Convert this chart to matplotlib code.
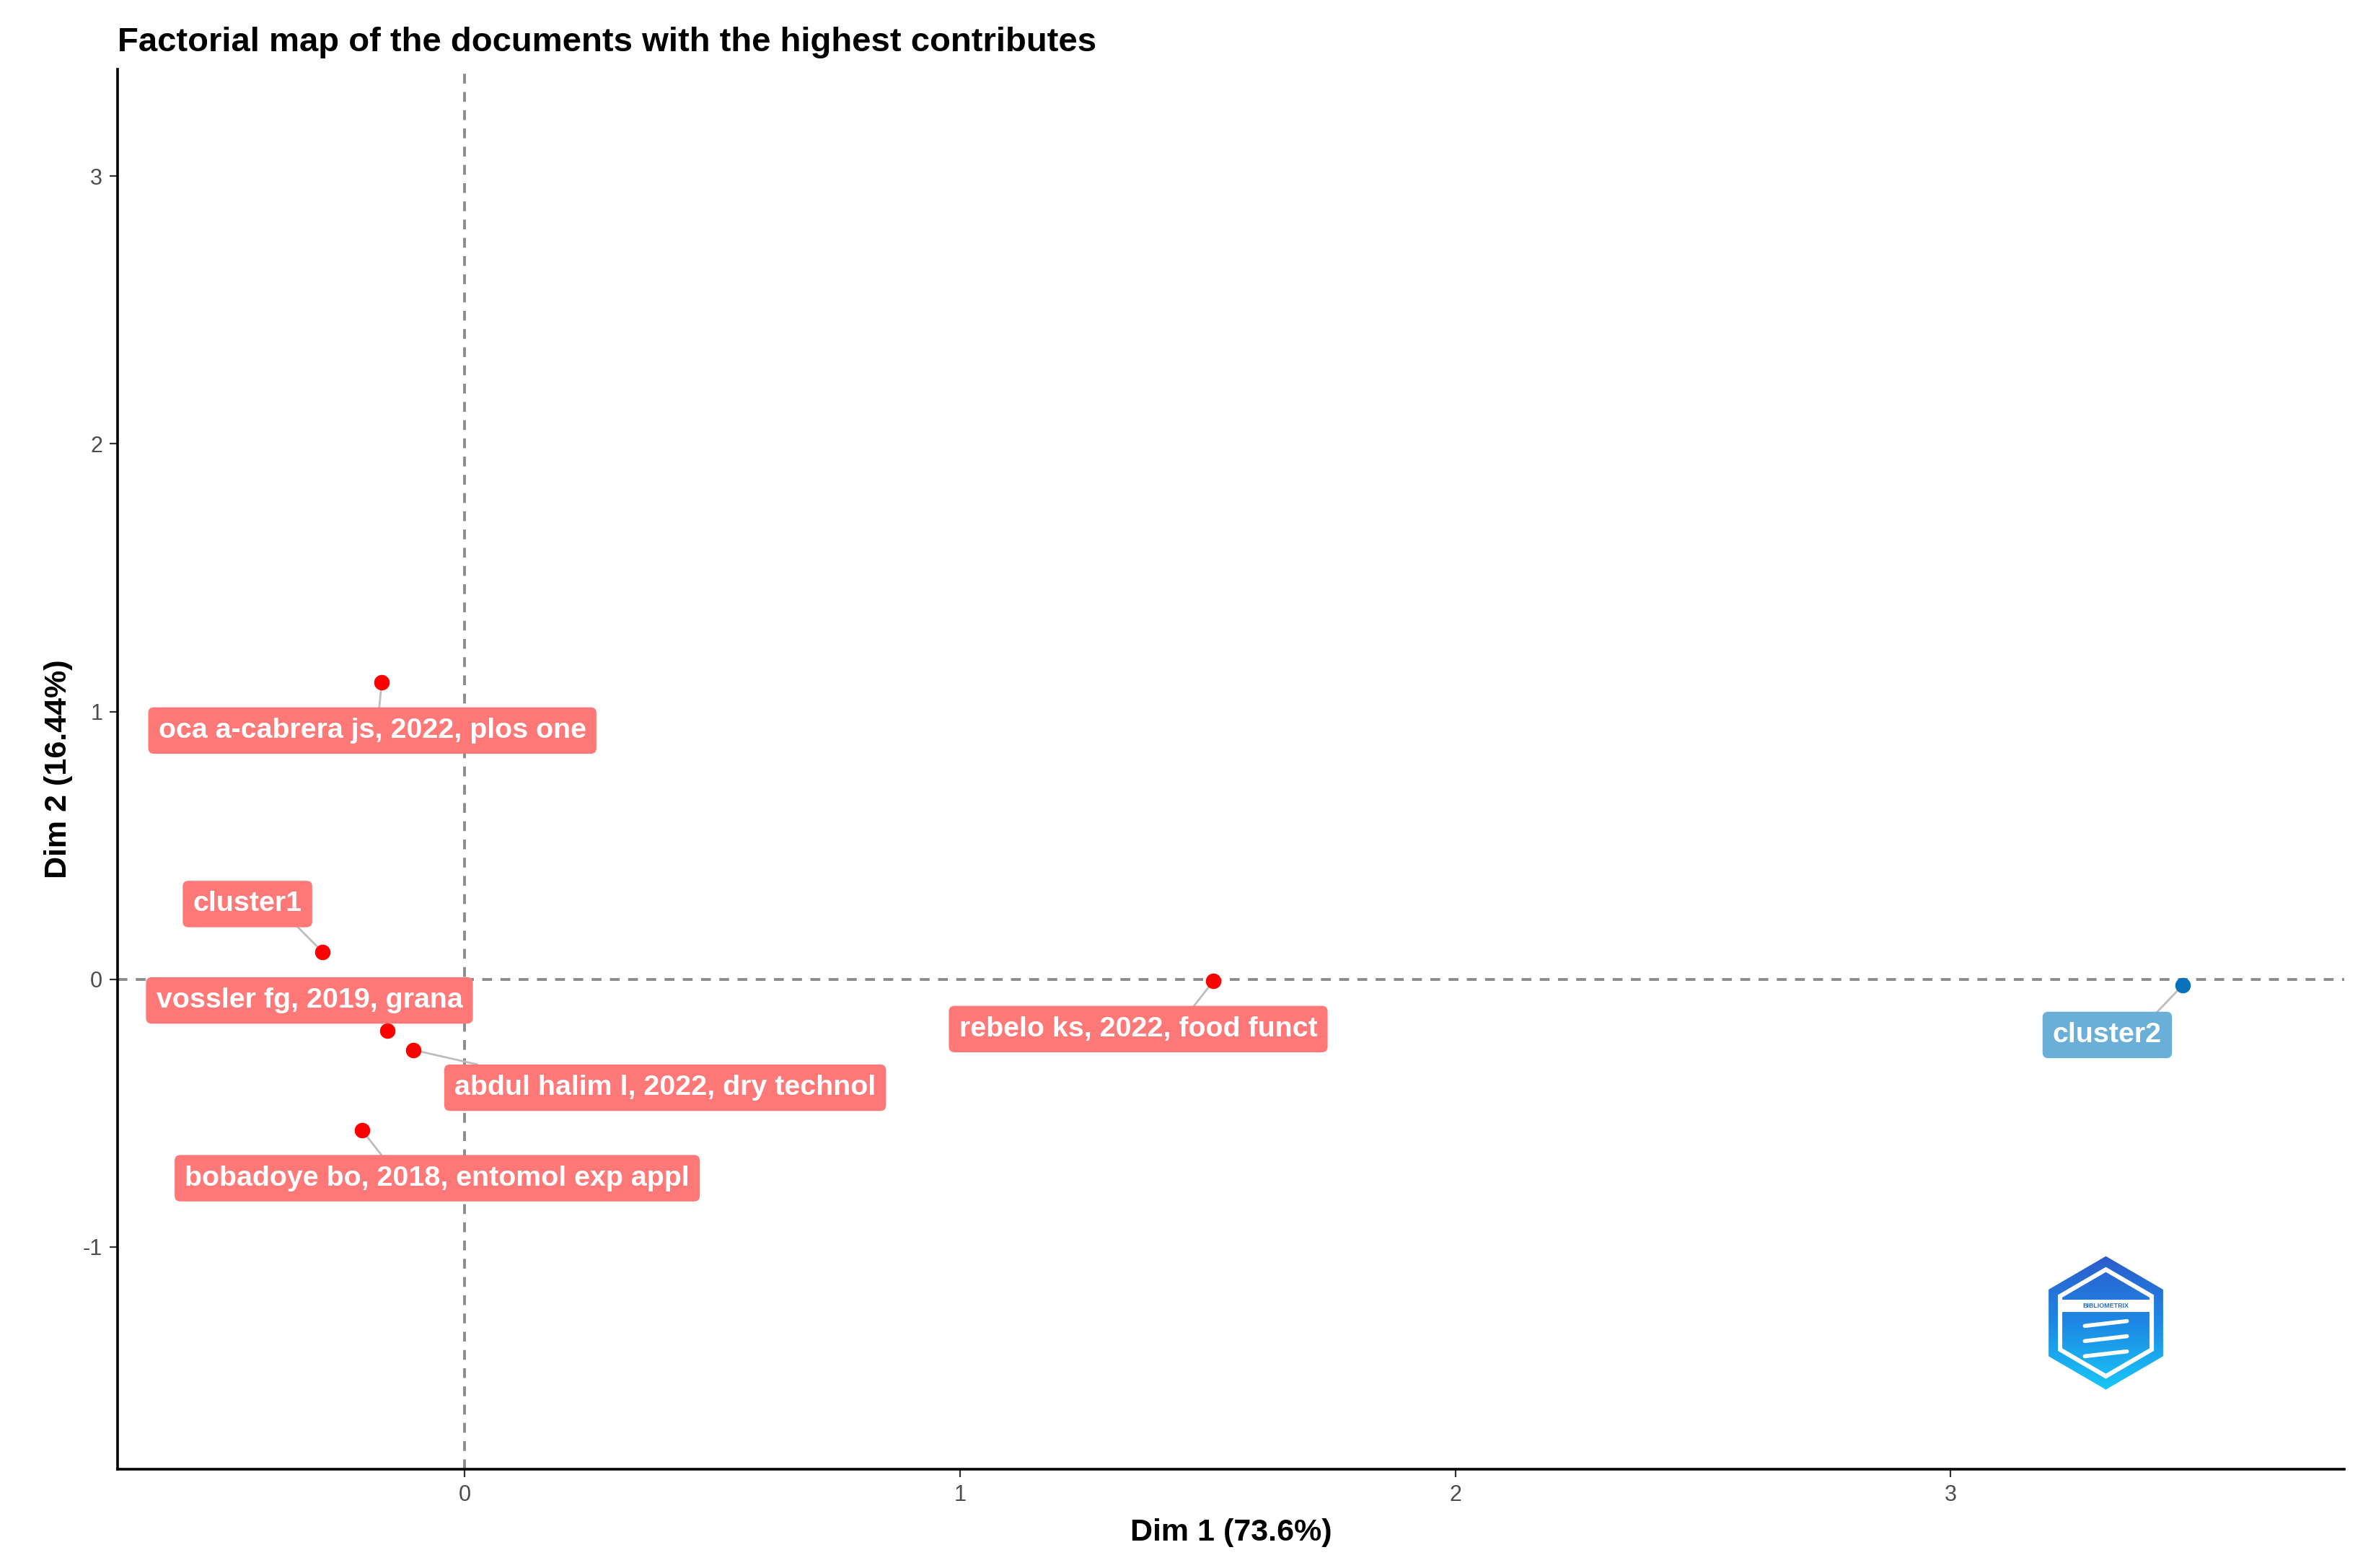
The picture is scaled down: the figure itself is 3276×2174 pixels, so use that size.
import numpy as np
import matplotlib
matplotlib.use("Agg")
import matplotlib.pyplot as plt
from matplotlib.patches import RegularPolygon, Rectangle

# documents / cluster centroids on the first two factorial dimensions
labels = [
    "oca a-cabrera js, 2022, plos one",
    "cluster1",
    "vossler fg, 2019, grana",
    "abdul halim l, 2022, dry technol",
    "bobadoye bo, 2018, entomol exp appl",
    "rebelo ks, 2022, food funct",
    "cluster2",
]
dim1 = [-0.167, -0.286, -0.155, -0.103, -0.207, 1.512, 3.468]
dim2 = [1.109, 0.101, -0.191, -0.264, -0.563, -0.006, -0.023]
cluster = [1, 1, 1, 1, 1, 1, 2]

x_ticks = [0, 1, 2, 3]
y_ticks = [-1, 0, 1, 2, 3]

# where the repelled labels sit, relative to their point (data units)
label_shift = [(-0.019, -0.180), (-0.152, 0.180), (-0.158, 0.112), (0.508, -0.141),
               (0.152, -0.180), (-0.152, -0.180), (-0.152, -0.185)]

point_col = {1: "#FF0000", 2: "#0A72BA"}
box_col = {1: "#FF7878", 2: "#6AAFD8"}

plt.rcParams["font.family"] = ["Liberation Sans", "DejaVu Sans"]
plt.rcParams["axes.unicode_minus"] = False

fig, ax = plt.subplots(figsize=(16.38, 10.87), dpi=200)
fig.subplots_adjust(left=0.0498, right=0.992, bottom=0.063, top=0.956)

ax.axhline(0, color="#8C8C8C", lw=1.4, ls=(0, (3.5, 3)), zorder=1)
ax.axvline(0, color="#8C8C8C", lw=1.4, ls=(0, (3.5, 3)), zorder=1)

ax.set_xlim(-0.70, 3.794)
ax.set_ylim(-1.83, 3.40)

texts = []
for lab, x, y, c, (dx, dy) in zip(labels, dim1, dim2, cluster, label_shift):
    ax.scatter(x, y, s=60, color=point_col[c], zorder=3, linewidths=0)
    t = ax.text(x + dx, y + dy, lab, ha="center", va="center", color="white",
                fontsize=14.2, fontweight="bold", zorder=4,
                bbox=dict(boxstyle="round,pad=0.36,rounding_size=0.2",
                          fc=box_col[c], ec="none"))
    texts.append(t)

# connector segments, point -> label box edge (mix of nearest spot and centre direction)
fig.canvas.draw()
inv = ax.transData.inverted()
for t, x, y in zip(texts, dim1, dim2):
    bb = t.get_bbox_patch().get_window_extent()
    px, py = ax.transData.transform((x, y))
    nx = min(max(px, bb.x0), bb.x1)
    ny = min(max(py, bb.y0), bb.y1)
    if np.hypot(px - nx, py - ny) < 25:
        continue
    mx, my = (bb.x0 + bb.x1) / 2, (bb.y0 + bb.y1) / 2
    ts = []
    for edge, p, m in ((bb.x0, px, mx), (bb.x1, px, mx), (bb.y0, py, my), (bb.y1, py, my)):
        if m != p:
            ts.append((edge - p) / (m - p))
    tt = 1.0
    for s in ts:
        if 0 <= s <= 1:
            qx_, qy_ = px + s * (mx - px), py + s * (my - py)
            if bb.x0 - 1 <= qx_ <= bb.x1 + 1 and bb.y0 - 1 <= qy_ <= bb.y1 + 1:
                tt = min(tt, s)
    cx, cy = px + tt * (mx - px), py + tt * (my - py)
    ex, ey = (nx + cx) / 2, (ny + cy) / 2
    qx, qy = inv.transform((ex, ey))
    ax.plot([x, qx], [y, qy], color="#BDBDBD", lw=1.0, zorder=2)

ax.set_xticks(x_ticks)
ax.set_yticks(y_ticks)
ax.tick_params(labelsize=11, colors="#333333", labelcolor="#4D4D4D", length=4, width=0.8)
for s in ["top", "right"]:
    ax.spines[s].set_visible(False)
for s in ["left", "bottom"]:
    ax.spines[s].set_linewidth(1.3)

ax.set_xlabel("Dim 1 (73.6%)", fontsize=15.5, fontweight="bold", labelpad=6)
ax.set_ylabel("Dim 2 (16.44%)", fontsize=15.5, fontweight="bold", labelpad=5)
ax.set_title("Factorial map of the documents with the highest contributes",
             loc="left", fontsize=17, fontweight="bold", pad=9)

# bibliometrix logo, bottom right
logo = ax.inset_axes([0.866, 0.056, 0.054, 0.097])
logo.set_xlim(-1, 1)
logo.set_ylim(-1.12, 1.12)
logo.axis("off")
hexo = RegularPolygon((0, 0), 6, radius=1.1, orientation=0, fc="none", ec="none")
logo.add_patch(hexo)
grad = np.linspace(0, 1, 256).reshape(-1, 1)
cmap = matplotlib.colors.LinearSegmentedColormap.from_list("bx", ["#19C9F7", "#1E88E5", "#2D5BCB"])
im = logo.imshow(grad, extent=(-1, 1, -1.12, 1.12), origin="lower", cmap=cmap, aspect="auto")
im.set_clip_path(hexo)
logo.add_patch(RegularPolygon((0, 0), 6, radius=0.88, orientation=0, fc="none", ec="white", lw=2.2))
logo.add_patch(Rectangle((-0.78, 0.18), 1.56, 0.2, fc="white", ec="none"))
logo.text(0, 0.28, "BIBLIOMETRIX", ha="center", va="center", fontsize=3.2,
          fontweight="bold", color="#1E6FD0")
for yy in (-0.05, -0.3, -0.55):
    logo.plot([-0.35, 0.35], [yy, yy + 0.08], color="white", lw=2.0, solid_capstyle="round")

fig.savefig("out.png", dpi=200)
